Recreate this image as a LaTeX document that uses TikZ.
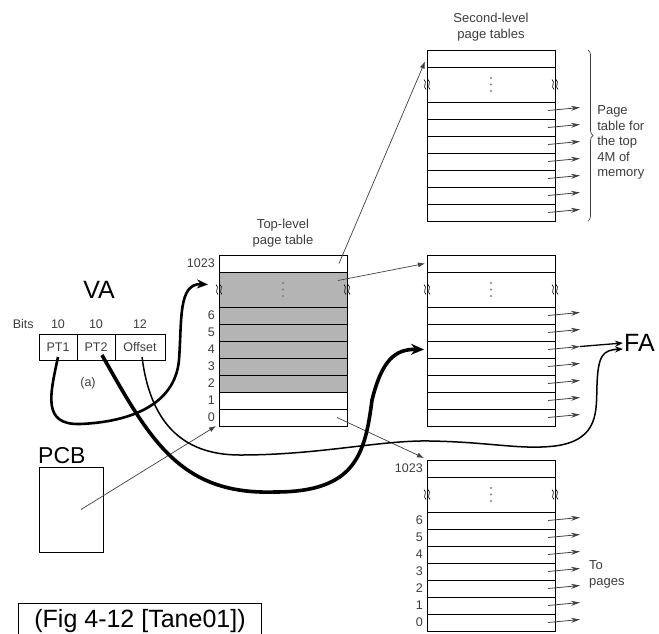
\documentclass[tikz,border=0pt]{standalone}
\usepackage{fontspec}
\setmainfont{Liberation Sans}
\usetikzlibrary{arrows.meta,positioning,backgrounds,decorations.pathreplacing}
\definecolor{tblgray}{HTML}{B4B4B4}
\definecolor{ink}{HTML}{3C3C3C}
\definecolor{wire}{HTML}{404040}

\tikzset{
  row/.style={draw, line width=0.8pt, minimum width=128pt, minimum height=17pt, inner sep=0pt, outer sep=0pt},
  vacell/.style={draw, line width=0.8pt, minimum height=26pt, inner sep=0pt, outer sep=0pt, font=\fontsize{12.5}{14}\selectfont, text=ink},
  lbl/.style={font=\fontsize{12.5}{14}\selectfont, text=ink, inner sep=1pt},
  note/.style={font=\fontsize{13}{15.5}\selectfont, text=ink, align=left, inner sep=2pt},
  big/.style={font=\fontsize{25}{27}\selectfont},
  ptr/.style={wire, line width=0.7pt, -{Latex[length=7pt,width=5pt]}},
  rowarr/.style={wire, line width=0.8pt, -{Stealth[length=9pt,width=5pt]}},
  brk/.pic={\draw[line width=0.6pt] (-3,-5) .. controls (1,-2) and (-5,2) .. (-1,5)
                                    (1,-5) .. controls (5,-2) and (-1,2) .. (3,5);}
}

\begin{document}
\begin{tikzpicture}[x=1pt, y=-1pt]
  \useasboundingbox (0,0) rectangle (659,633);

  % page tables
  \foreach \t/\x/\y in {tl/219/255, s1/427/50, s2/427/255, s3/427/460} {
    \node[row, anchor=north west] (\t-top) at (\x,\y) {};
    \node[row, minimum height=35pt, below=0pt of \t-top] (\t-gap) {};
    \foreach \k [remember=\k as \p (initially gap)] in {6,5,4,3,2,1,0}
      \node[row, below=0pt of \t-\p] (\t-\k) {};
    \foreach \d in {-6.5,0,6.5}
      \fill[gray] ([yshift=\d pt]\t-gap.center) circle (1.1pt);
    \pic at (\t-gap.west) {brk};
    \pic at (\t-gap.east) {brk};
  }
  \begin{scope}[on background layer]
    \fill[tblgray] (tl-gap.north west) rectangle (tl-2.south east);
  \end{scope}

  \foreach \t in {tl,s3} {
    \node[lbl, left=3pt of \t-top] {1023};
    \foreach \k in {0,...,6}
      \node[lbl, left=3pt of \t-\k] {\k};
  }
  \foreach \t in {s1,s2,s3} {
    \foreach \k in {0,...,6} {
      \coordinate (\t-\k-out) at ([xshift=25pt,yshift=3pt]\t-\k.east);
      \draw[rowarr] ([xshift=-7pt]\t-\k.east) -- (\t-\k-out);
    }
  }

  \node[note, align=center, above=6pt of tl-top] {Top-level\\page table};
  \node[note, align=center, above=7pt of s1-top] {Second-level\\page tables};
  \draw[ink, line width=0.7pt, decorate, decoration={brace, amplitude=5pt}]
    ([xshift=33pt]s1-top.north east) --
    node[note, right=7pt, yshift=-7pt] {Page\\table for\\the top\\4M of\\memory}
    ([xshift=33pt]s1-0.south east);
  \node[note, right=32pt of s3-3, yshift=-3pt] {To\\pages};

  % virtual address
  \node[vacell, minimum width=38pt, anchor=north west] (pt1) at (39,334) {PT1};
  \node[vacell, minimum width=38pt, right=0pt of pt1] (pt2) {PT2};
  \node[vacell, minimum width=50pt, right=0pt of pt2] (off) {Offset};
  \foreach \c/\n in {pt1/10, pt2/10, off/12}
    \node[lbl, above=4pt of \c] (b-\c) {\n};
  \node[lbl, left=15pt of b-pt1] {Bits};
  \node[big] (va) at (99,290) {VA};
  \node[lbl] (sub) at (88,383) {(a)};

  \node[draw, line width=0.8pt, minimum width=64pt, minimum height=85pt, anchor=north west, outer sep=0pt] (pcb) at (39,467) {};
  \node[font=\fontsize{23}{25}\selectfont, anchor=base west, inner sep=0pt] (pcbl) at ([xshift=-1pt,yshift=4pt]pcb.north west) {PCB};
  \node[big, anchor=west, inner sep=1pt] (fa) at (623,343) {FA};

  \draw[ptr] ([xshift=-8pt]tl-top.east) -- ([xshift=-2pt,yshift=-3pt]s1-top.west);
  \draw[ptr] ([xshift=-9pt,yshift=9pt]tl-gap.east) -- ([xshift=-2pt]s2-top.west);
  \draw[ptr] ([xshift=-10pt]tl-0.east) -- ([xshift=-3pt,yshift=2pt]s3-top.north west);
  \draw[ptr] ([xshift=10pt]pcb.center) -- ([xshift=-3pt]tl-0.south west);
  \draw[line width=1.3pt, -{Stealth[length=8pt,width=6pt]}] (s2-4-out) -- (fa.west);

  \draw[line width=2.6pt, -{Stealth[length=11pt,width=9pt]}]
    ([yshift=-10pt]pt1.center) .. controls (50,395) and (42,425) .. (80,424)
    .. controls (130,422) and (175,405) .. (179,360)
    .. controls (182,320) and (178,283) .. ([xshift=-11pt,yshift=5pt]tl-gap.west);
  \draw[line width=3.6pt, -{Stealth[length=13pt,width=11pt]}]
    ([xshift=6pt,yshift=-8pt]pt2.center) .. controls (150,440) and (180,495) .. (275,492)
    .. controls (355,492) and (365,455) .. (372,400)
    .. controls (382,360) and (395,349) .. ([xshift=-3pt]s2-4.west);
  \draw[line width=1.5pt, -{Stealth[length=8pt,width=6pt]}]
    ([xshift=2pt,yshift=-10pt]off.center) .. controls (150,420) and (180,455) .. (240,455)
    .. controls (320,455) and (380,440) .. (430,441)
    .. controls (490,442) and (520,450) .. (555,446)
    .. controls (600,440) and (596,410) .. (597,385)
    .. controls (598,355) and (603,350) .. ([yshift=-6pt]fa.west);

  \node[draw, line width=0.8pt, font=\fontsize{25}{27}\selectfont, inner xsep=16pt, inner ysep=5pt, anchor=base] (fig) at (140,627) {(Fig 4-12 [Tane01])};
\end{tikzpicture}
\end{document}
